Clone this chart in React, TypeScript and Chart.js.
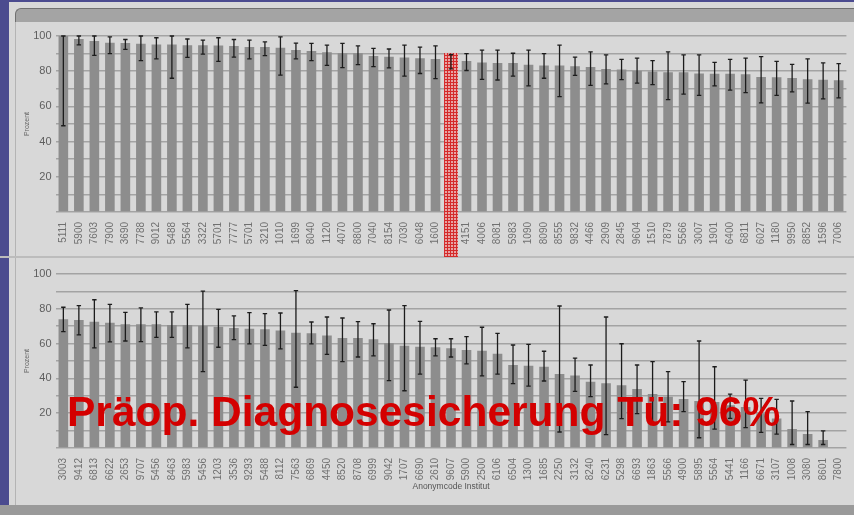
import React, { useEffect, useRef } from "react";
import { Chart, registerables } from "chart.js";
Chart.register(...registerables);

// ---------- DATA ----------
const topLabels = [
  "5111", "5900", "7603", "7900", "3690", "7788", "9012", "5488", "5564", "3322",
  "5701", "7777", "5701", "3210", "1010", "1699", "8040", "1120", "4070", "8800",
  "7040", "8154", "7030", "6048", "1600", "1068", "4151", "4006", "8081", "5983",
  "1090", "8090", "8555", "9832", "4466", "2909", "2845", "9604", "1510", "7879",
  "5566", "3007", "1901", "6400", "6811", "6027", "1180", "9950", "8852", "1596", "7006",
];
const topValues = [
  100, 98.3, 97.2, 96.1, 96, 95.6, 95.2, 95.2, 94.8, 94.8,
  94.6, 94.3, 93.7, 93.7, 93.3, 92, 91.5, 90.8, 90.2, 90.2,
  88.7, 88.2, 87.8, 87.4, 87, 86.5, 85.8, 85, 84.7, 84.7,
  83.7, 83.2, 83.2, 82.8, 82.4, 81.3, 81, 80.2, 79.8, 79.4,
  79.4, 78.7, 78.5, 78.5, 78.2, 76.7, 76.5, 76.1, 75.4, 75.2, 74.8,
];
const topErrLow = [
  49, 95, 89, 90, 92.4, 86, 87, 76, 87.8, 89.7,
  85.6, 88, 87, 88.9, 77.8, 87, 86, 83.3, 82, 83.7,
  82.6, 81.9, 77.2, 78.7, 75.8, 81.3, 80.4, 75.4, 75, 77.2,
  71.7, 76, 65.6, 77.6, 72, 72.8, 75.2, 73.2, 72.4, 63.9,
  67, 66.3, 71.7, 69.3, 67.8, 62, 66.3, 68.2, 61.9, 64.3, 64.8,
];
const topErrHigh = [
  100, 100, 100, 99.5, 98, 100, 99, 100, 98.3, 97.6,
  99, 98, 97.6, 96.7, 99.5, 96, 95.8, 94.8, 95.8, 94.4,
  93, 92.6, 94.8, 93.7, 94.4, 89.5, 90, 92, 92, 90.2,
  92, 90, 94.8, 88, 91, 89.3, 86.7, 87.4, 86, 91,
  89.3, 89.3, 85, 86.7, 87.4, 88.3, 85.6, 83.9, 87, 84.7, 84.3,
];
const topHighlightLabel = "1068";

const bottomLabels = [
  "3003", "9412", "6813", "6622", "2653", "9707", "5456", "8463", "5983", "5456",
  "1203", "3536", "9293", "5488", "8112", "7563", "6869", "4450", "8520", "8708",
  "6999", "9042", "1707", "6690", "2610", "9607", "5900", "2500", "6106", "6504",
  "1300", "1685", "2250", "3132", "8240", "6231", "5298", "6693", "1863", "5566",
  "4900", "5895", "5564", "5441", "1166", "6671", "3107", "1008", "3080", "8601", "7800",
];
const bottomValues = [
  74, 73.6, 72.6, 72, 71.1, 71.1, 71.1, 70.7, 70.7, 70.3,
  69.7, 69, 68.6, 68.2, 67.6, 66.3, 65.9, 64.6, 63.2, 63.2,
  62.5, 60.2, 58.8, 58.2, 57.9, 57.3, 56.3, 55.9, 54.2, 47.7,
  47.3, 46.7, 42.5, 41.6, 38.1, 37.2, 36, 33.9, 31, 29.5,
  28.2, 27, 26.5, 24.5, 23.5, 20, 17, 10.9, 8, 4.6, 0,
];
const bottomErrLow = [
  66.9, 65, 57.6, 61, 61.5, 61.1, 63.6, 63.6, 57.6, 43.9,
  57.9, 62.3, 59.8, 59, 57, 34.9, 59.8, 53.8, 49.6, 52.3,
  53, 38.7, 32.9, 42.4, 52.9, 52.3, 48.3, 41.4, 42.4, 37,
  35.6, 38.5, 9.2, 32.6, 29.5, 7.7, 16.9, 19.7, 14, 15,
  20.9, 5.9, 10.9, 17, 11.7, 9, 8, 2, 2, 2, null,
];
const bottomErrHigh = [
  80.9, 81.8, 85.2, 82.6, 78, 80.5, 78.2, 78.2, 82.6, 90.2,
  79.7, 75.9, 77.8, 77.2, 77.6, 90.4, 72.4, 75.3, 74.7, 72.6,
  71.4, 79.3, 81.8, 72.8, 62.8, 62.8, 64, 69.4, 65.9, 59.2,
  59.6, 55.6, 81.6, 51.7, 47.7, 75.3, 59.9, 47.7, 49.6, 43.9,
  38.1, 61.5, 46.7, 31, 39, 28.5, 28, 27, 20.9, 9.8, null,
];

const yTickLabels = [20, 40, 60, 80, 100];
const yAxisTitle = "Prozent";
const xAxisTitle = "Anonymcode Institut";
const overlayText = "Präop. Diagnosesicherung Tü: 96%";

// ---------- HELPERS ----------
const FONT = "'Liberation Sans', Arial, sans-serif";

function makePattern(): CanvasPattern | string {
  const c = document.createElement("canvas");
  c.width = 3;
  c.height = 3;
  const g = c.getContext("2d");
  if (!g) return "#d85a5a";
  g.fillStyle = "#e7a3a3";
  g.fillRect(0, 0, 3, 3);
  g.fillStyle = "#d42a2a";
  g.fillRect(0, 0, 3, 1);
  g.fillRect(0, 0, 1, 3);
  const p = g.createPattern(c, "repeat");
  return p || "#d85a5a";
}

function makeErrorPlugin(low: (number | null)[], high: (number | null)[], hlIndex: number) {
  return {
    id: "errorBars",
    afterDraw(chart: any) {
      const ctx = chart.ctx;
      const meta = chart.getDatasetMeta(0);
      const y = chart.scales.y;
      if (hlIndex >= 0) {
        const bar: any = meta.data[hlIndex];
        const w = bar.width * 1.45;
        const top = y.getPixelForValue(high[hlIndex] as number) - 1.5;
        const bottom = chart.height - 1;
        ctx.save();
        ctx.fillStyle = makePattern();
        ctx.fillRect(bar.x - w / 2, top, w, bottom - top);
        ctx.restore();
      }
      ctx.save();
      ctx.strokeStyle = "#1c1c1c";
      ctx.lineWidth = 1.3;
      meta.data.forEach((bar: any, i: number) => {
        const lo = low[i];
        const hi = high[i];
        if (lo == null || hi == null) return;
        const yl = y.getPixelForValue(lo);
        const yh = y.getPixelForValue(hi);
        ctx.beginPath();
        ctx.moveTo(bar.x, yl);
        ctx.lineTo(bar.x, yh);
        ctx.moveTo(bar.x - 2.2, yl);
        ctx.lineTo(bar.x + 2.2, yl);
        ctx.moveTo(bar.x - 2.2, yh);
        ctx.lineTo(bar.x + 2.2, yh);
        ctx.stroke();
      });
      ctx.restore();
    },
  };
}

type Cfg = {
  labels: string[];
  values: number[];
  low: (number | null)[];
  high: (number | null)[];
  hlIndex: number;
  padTop: number;
  padBottom: number;
  xHeight: number;
  showXTitle: boolean;
};

function buildConfig(c: Cfg): any {
  return {
    type: "bar",
    data: {
      labels: c.labels,
      datasets: [
        {
          data: c.values,
          backgroundColor: "#8d8d8d",
          barPercentage: 0.62,
          categoryPercentage: 1,
        },
      ],
    },
    options: {
      animation: false,
      responsive: false,
      maintainAspectRatio: false,
      layout: { padding: { top: c.padTop, right: 7.6, bottom: c.padBottom, left: 0 } },
      plugins: { legend: { display: false }, tooltip: { enabled: false } },
      scales: {
        x: {
          grid: { display: false },
          border: { display: false },
          ticks: {
            autoSkip: false,
            minRotation: 90,
            maxRotation: 90,
            padding: 2,
            color: "#707070",
            font: { size: 10, family: FONT },
          },
          title: {
            display: c.showXTitle,
            text: xAxisTitle,
            color: "#555",
            font: { size: 8.5, family: FONT },
            padding: { top: 0, bottom: 3 },
          },
          afterFit: (s: any) => {
            s.height = c.xHeight;
          },
        },
        y: {
          min: 0,
          max: 100,
          grid: { color: "#a3a3a3", lineWidth: 1.5, drawTicks: false },
          border: { display: false },
          ticks: {
            stepSize: 10,
            padding: 4,
            color: "#5e5e5e",
            font: { size: 11, family: FONT },
            callback: (v: number) => (yTickLabels.includes(v) ? String(v) : ""),
          },
          title: {
            display: true,
            text: yAxisTitle,
            color: "#666",
            font: { size: 7, family: FONT },
            padding: { top: 23, bottom: 0 },
          },
          afterFit: (s: any) => {
            s.width = 55.6;
          },
        },
      },
    },
    plugins: [makeErrorPlugin(c.low, c.high, c.hlIndex)],
  };
}

function BarPanel(props: { cfg: Cfg; top: number; height: number }) {
  const ref = useRef<HTMLCanvasElement>(null);
  useEffect(() => {
    if (!ref.current) return;
    const chart = new Chart(ref.current, buildConfig(props.cfg));
    return () => chart.destroy();
  }, []);
  return (
    <canvas
      ref={ref}
      width={854}
      height={props.height}
      style={{ position: "absolute", left: 0, top: props.top, width: 854, height: props.height }}
    />
  );
}

export default function App() {
  const topCfg: Cfg = {
    labels: topLabels,
    values: topValues,
    low: topErrLow,
    high: topErrHigh,
    hlIndex: topLabels.indexOf(topHighlightLabel),
    padTop: 14,
    padBottom: 0,
    xHeight: 46,
    showXTitle: false,
  };
  const bottomCfg: Cfg = {
    labels: bottomLabels,
    values: bottomValues,
    low: bottomErrLow,
    high: bottomErrHigh,
    hlIndex: -1,
    padTop: 12,
    padBottom: 10,
    xHeight: 47,
    showXTitle: true,
  };
  return (
    <div
      style={{
        position: "fixed",
        left: 0,
        top: 0,
        width: 854,
        height: 515,
        overflow: "hidden",
        background: "#4b4b8f",
      }}
    >
      <div style={{ position: "absolute", left: 9, top: 2, width: 845, height: 513, background: "#d8d8d8" }} />
      <div
        style={{
          position: "absolute",
          left: 15,
          top: 8,
          width: 845,
          height: 13,
          background: "#a4a4a4",
          borderTop: "1px solid #707070",
          borderLeft: "1px solid #707070",
          borderTopLeftRadius: 6,
        }}
      />
      <div style={{ position: "absolute", left: 15, top: 22, width: 1, height: 490, background: "#b4b4b4" }} />
      <div style={{ position: "absolute", left: 0, top: 256, width: 854, height: 2, background: "#bcbcbc" }} />
      <div style={{ position: "absolute", left: 0, top: 505, width: 854, height: 10, background: "#9a9a9a" }} />
      <BarPanel cfg={topCfg} top={22} height={236} />
      <BarPanel cfg={bottomCfg} top={262} height={243} />
      <div
        style={{
          position: "absolute",
          left: 67,
          top: 391,
          fontFamily: FONT,
          fontWeight: "bold",
          fontSize: 42.5,
          lineHeight: 1,
          color: "#d40000",
          whiteSpace: "nowrap",
        }}
      >
        {overlayText}
      </div>
    </div>
  );
}
